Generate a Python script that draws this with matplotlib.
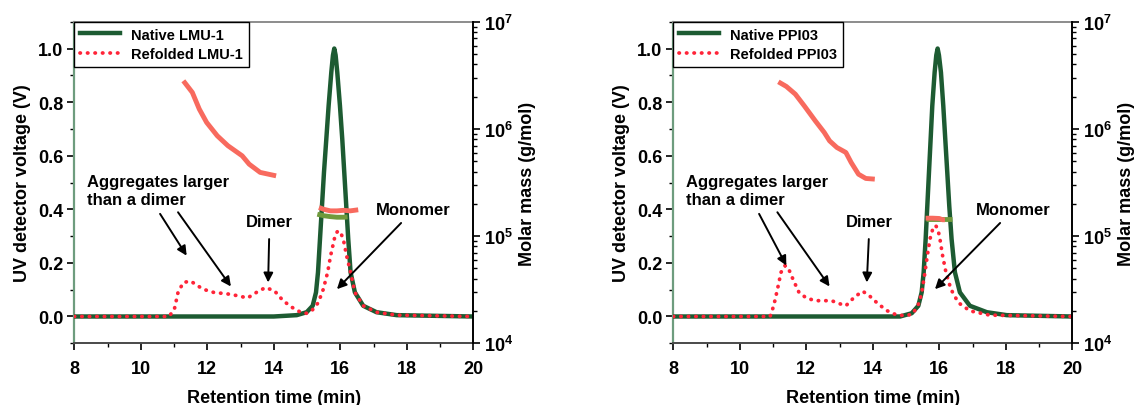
import numpy as np
import matplotlib
matplotlib.use("Agg")
import matplotlib.pyplot as plt
from matplotlib.ticker import MultipleLocator, FuncFormatter, LogLocator, NullFormatter

plt.rcParams['font.family'] = ['Liberation Sans', 'DejaVu Sans']
plt.rcParams['font.weight'] = 'bold'
plt.rcParams['mathtext.fontset'] = 'custom'
plt.rcParams['mathtext.rm'] = 'Liberation Sans:bold'
plt.rcParams['mathtext.bf'] = 'Liberation Sans:bold'
plt.rcParams['mathtext.default'] = 'bf'

# ---------------- data: LMU-1 panel ----------------
nat1_x = [8.0, 14.0, 14.69, 14.99, 15.17, 15.27, 15.33, 15.39, 15.45, 15.51, 15.58, 15.65, 15.73, 15.78,
          15.82, 15.86, 15.91, 15.99, 16.06, 16.12, 16.18, 16.24, 16.31, 16.44, 16.69, 17.09, 17.70, 20.0]
nat1_y = [0.0, 0.0, 0.005, 0.016, 0.04, 0.09, 0.165, 0.289, 0.413, 0.538, 0.662, 0.787, 0.911, 0.975,
          1.0, 0.975, 0.911, 0.787, 0.662, 0.538, 0.413, 0.289, 0.165, 0.09, 0.04, 0.016, 0.005, 0.0]
ref1_x = [8.0, 10.85, 11.01, 11.12, 11.28, 11.5, 11.87, 12.19, 12.62, 12.94, 13.21, 13.48, 13.75, 14.02,
          14.28, 14.55, 14.82, 14.98, 15.14, 15.34, 15.49, 15.62, 15.71, 15.85, 15.93, 16.02, 16.09,
          16.19, 16.31, 16.44, 16.69, 17.09, 17.70, 20.0]
ref1_y = [0.0, 0.0, 0.027, 0.09, 0.127, 0.132, 0.102, 0.09, 0.084, 0.077, 0.069, 0.09, 0.108, 0.096,
          0.059, 0.034, 0.015, 0.012, 0.021, 0.052, 0.102, 0.165, 0.227, 0.305, 0.32, 0.31, 0.289,
          0.227, 0.165, 0.09, 0.04, 0.016, 0.005, 0.0]
mm1_agg_x = [11.28, 11.55, 11.76, 11.98, 12.30, 12.62, 13.05, 13.26, 13.59, 14.07]
mm1_agg_y = [2.81e6, 2.19e6, 1.53e6, 1.15e6, 8.63e5, 6.97e5, 5.61e5, 4.69e5, 3.93e5, 3.65e5]
mm1_ref_x = [15.36, 15.5, 15.7, 15.9, 16.1, 16.3, 16.54]
mm1_ref_y = [1.85e5, 1.78e5, 1.72e5, 1.72e5, 1.74e5, 1.72e5, 1.76e5]
mm1_nat_x = [15.31, 15.5, 15.7, 15.9, 16.1, 16.22]
mm1_nat_y = [1.60e5, 1.55e5, 1.52e5, 1.50e5, 1.50e5, 1.51e5]

# ---------------- data: PPI03 panel ----------------
nat2_x = [8.0, 14.5, 14.82, 15.17, 15.37, 15.47, 15.53, 15.59, 15.64, 15.69, 15.74, 15.79, 15.86, 15.91,
          15.95, 15.99, 16.05, 16.12, 16.18, 16.24, 16.30, 16.37, 16.47, 16.62, 16.92, 17.43, 18.03, 20.0]
nat2_y = [0.0, 0.0, 0.0, 0.012, 0.04, 0.09, 0.165, 0.289, 0.413, 0.538, 0.662, 0.787, 0.911, 0.975,
          1.0, 0.975, 0.911, 0.787, 0.662, 0.538, 0.413, 0.289, 0.165, 0.09, 0.04, 0.016, 0.005, 0.0]
ref2_x = [8.0, 10.91, 11.02, 11.13, 11.24, 11.36, 11.45, 11.62, 11.78, 12.0, 12.27, 12.54, 12.76, 12.97,
          13.19, 13.46, 13.7, 13.9, 14.17, 14.44, 14.71, 14.98, 15.2, 15.40, 15.49, 15.57, 15.64, 15.72,
          15.80, 15.89, 15.96, 16.02, 16.10, 16.20, 16.35, 16.57, 16.92, 17.52, 20.0]
ref2_y = [0.0, 0.0, 0.04, 0.10, 0.165, 0.19, 0.183, 0.133, 0.09, 0.069, 0.059, 0.059, 0.059, 0.049,
          0.04, 0.074, 0.094, 0.077, 0.046, 0.021, 0.006, 0.003, 0.009, 0.052, 0.102, 0.165, 0.227, 0.289,
          0.325, 0.34, 0.325, 0.289, 0.227, 0.165, 0.102, 0.052, 0.021, 0.005, 0.0]
mm2_agg_x = [11.16, 11.40, 11.67, 11.94, 12.27, 12.54, 12.70, 12.92, 13.19, 13.35, 13.57, 13.79, 14.06]
mm2_agg_y = [2.75e6, 2.49e6, 2.11e6, 1.64e6, 1.19e6, 9.27e5, 7.74e5, 6.71e5, 6.03e5, 4.86e5, 3.78e5,
             3.45e5, 3.40e5]
mm2_ref_x = [15.59, 15.8, 16.0, 16.1, 16.17]
mm2_ref_y = [1.47e5, 1.47e5, 1.46e5, 1.42e5, 1.42e5]
mm2_nat_x = [15.61, 15.9, 16.1, 16.37]
mm2_nat_y = [1.43e5, 1.43e5, 1.43e5, 1.43e5]

labels1 = ["Native LMU-1", "Refolded LMU-1"]
labels2 = ["Native PPI03", "Refolded PPI03"]

FS_TICK = 13
FS_LAB = 13
FS_LEG = 10.5
FS_ANN = 12
C_NAT = '#1d5b32'
C_REF = '#ff2438'
C_MMR = '#f86a5e'
C_MMN = '#6f9a3c'

fig = plt.figure(figsize=(11.36, 4.06), dpi=100)


def log_fmt(v, pos):
    e = int(round(np.log10(v)))
    return r'$\mathbf{10^{%d}}$' % e


def panel(rect, nx, ny, rx, ry, ax_x, ax_y, rfx, rfy, nmx, nmy, labels, ann):
    ax = fig.add_axes(rect)
    ax.plot(nx, ny, color=C_NAT, lw=3.2, label=labels[0], zorder=3, solid_joinstyle='round')
    ax.plot(rx, ry, color=C_REF, lw=2.7, linestyle=(0, (0.1, 1.9)), dash_capstyle='round',
            label=labels[1], zorder=4)
    ax.set_xlim(8, 20)
    ax.set_ylim(-0.1, 1.1)
    ax.xaxis.set_major_locator(MultipleLocator(2))
    ax.xaxis.set_minor_locator(MultipleLocator(1))
    ax.yaxis.set_major_locator(MultipleLocator(0.2))
    ax.yaxis.set_minor_locator(MultipleLocator(0.1))
    ax.yaxis.set_major_formatter(FuncFormatter(lambda v, p: '%.1f' % v))
    ax.tick_params(axis='both', which='major', direction='out', length=5, width=1.2,
                   labelsize=FS_TICK, pad=3)
    ax.tick_params(axis='x', which='major', pad=7)
    ax.tick_params(axis='both', which='minor', direction='out', length=3, width=1.0)
    for lab in ax.get_xticklabels() + ax.get_yticklabels():
        lab.set_fontweight('bold')
    ax.spines['left'].set_color('#6e9c7e')
    ax.spines['left'].set_linewidth(1.6)
    ax.spines['bottom'].set_color('#4a4a4a')
    ax.spines['bottom'].set_linewidth(1.4)
    ax.spines['top'].set_color('#8c8c8c')
    ax.spines['top'].set_linewidth(1.4)
    ax.spines['right'].set_visible(False)
    ax.set_xlabel('Retention time (min)', fontsize=FS_LAB, fontweight='bold', labelpad=9)
    ax.set_ylabel('UV detector voltage (V)', fontsize=FS_LAB, fontweight='bold', labelpad=5)

    leg = ax.legend(loc='upper left', bbox_to_anchor=(0, 1), borderaxespad=0, fancybox=False,
                    edgecolor='black', framealpha=1, handlelength=2.7,
                    handletextpad=0.8, borderpad=0.4, labelspacing=0.4,
                    prop={'weight': 'bold', 'size': FS_LEG})
    leg.get_frame().set_linewidth(1.0)

    ax2 = ax.twinx()
    ax2.set_yscale('log')
    ax2.set_ylim(1e4, 1e7)
    ax2.plot(nmx, nmy, color=C_MMN, lw=3.5, solid_capstyle='butt', zorder=3)
    ax2.plot(ax_x, ax_y, color=C_MMR, lw=3.5, solid_capstyle='butt', zorder=4)
    ax2.plot(rfx, rfy, color=C_MMR, lw=3.5, solid_capstyle='butt', zorder=4)
    ax2.yaxis.set_major_locator(LogLocator(base=10, numticks=10))
    ax2.yaxis.set_minor_locator(LogLocator(base=10, subs=np.arange(2, 10), numticks=10))
    ax2.yaxis.set_major_formatter(FuncFormatter(log_fmt))
    ax2.yaxis.set_minor_formatter(NullFormatter())
    ax2.tick_params(axis='y', which='major', direction='out', length=5, width=1.2,
                    labelsize=FS_TICK, pad=3)
    ax2.tick_params(axis='y', which='minor', direction='out', length=3, width=1.0)
    ax2.spines['right'].set_color('black')
    ax2.spines['right'].set_linewidth(1.4)
    for s in ['left', 'top', 'bottom']:
        ax2.spines[s].set_visible(False)
    ax2.set_ylabel('Molar mass (g/mol)', fontsize=FS_LAB, fontweight='bold', labelpad=4)

    aprops = dict(arrowstyle='-|>', color='black', lw=1.4, mutation_scale=14,
                  shrinkA=0, shrinkB=0)
    ax2.text(ann['agg_text'][0], ann['agg_text'][1], 'Aggregates larger\nthan a dimer',
             transform=ax.transData, ha='left', va='center', fontsize=FS_ANN, fontweight='bold',
             linespacing=1.3, zorder=6)
    ax2.text(ann['dim_text'][0], ann['dim_text'][1], 'Dimer', transform=ax.transData,
             ha='center', va='center', fontsize=FS_ANN, fontweight='bold', zorder=6)
    ax2.text(ann['mon_text'][0], ann['mon_text'][1], 'Monomer', transform=ax.transData,
             ha='center', va='center', fontsize=FS_ANN, fontweight='bold', zorder=6)
    for tail, head in ann['arrows']:
        ax.annotate('', xy=head, xytext=tail, xycoords='data', textcoords='data',
                    arrowprops=aprops, zorder=6)
    return ax, ax2


ann1 = dict(agg_text=(8.38, 0.47), dim_text=(13.88, 0.354), mon_text=(18.2, 0.401),
            arrows=[((10.58, 0.383), (11.38, 0.227)),
                    ((11.12, 0.389), (12.71, 0.112)),
                    ((13.86, 0.289), (13.83, 0.127)),
                    ((17.83, 0.349), (15.90, 0.102))])
ann2 = dict(agg_text=(8.39, 0.47), dim_text=(13.9, 0.354), mon_text=(18.22, 0.401),
            arrows=[((10.58, 0.383), (11.40, 0.19)),
                    ((11.13, 0.389), (12.70, 0.112)),
                    ((13.88, 0.289), (13.82, 0.127)),
                    ((17.83, 0.349), (15.87, 0.102))])

panel([0.0654, 0.152, 0.3512, 0.792], nat1_x, nat1_y, ref1_x, ref1_y, mm1_agg_x, mm1_agg_y,
      mm1_ref_x, mm1_ref_y, mm1_nat_x, mm1_nat_y, labels1, ann1)
panel([0.5927, 0.152, 0.3512, 0.792], nat2_x, nat2_y, ref2_x, ref2_y, mm2_agg_x, mm2_agg_y,
      mm2_ref_x, mm2_ref_y, mm2_nat_x, mm2_nat_y, labels2, ann2)

fig.savefig('out.png', dpi=100)
